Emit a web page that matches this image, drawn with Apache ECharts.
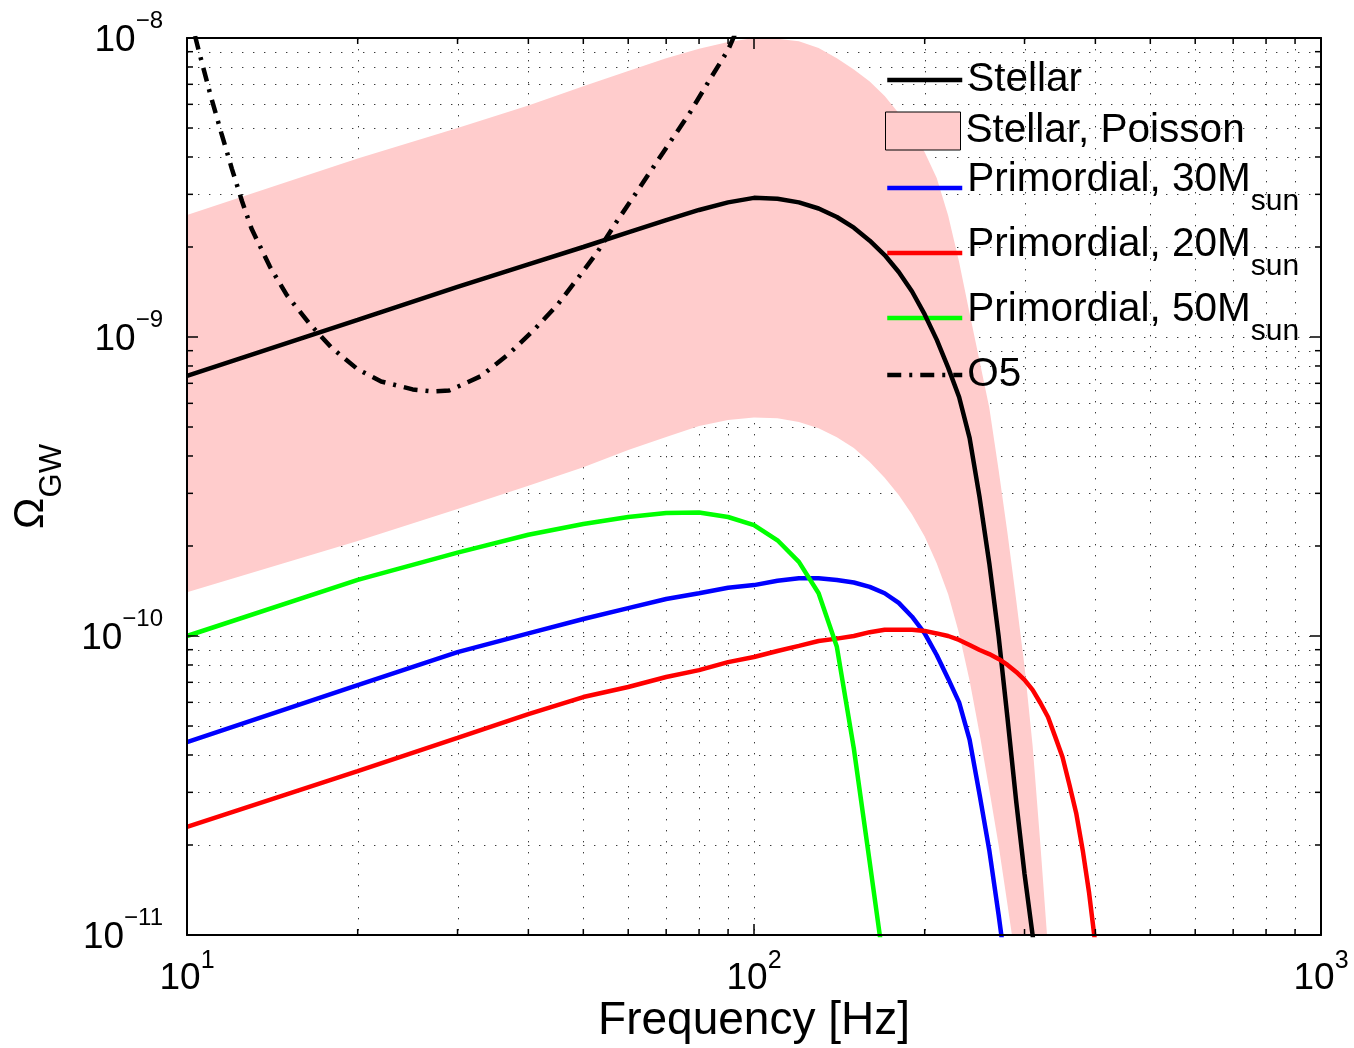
<!DOCTYPE html>
<html><head><meta charset="utf-8">
<script src="https://cdn.jsdelivr.net/npm/echarts@6/dist/echarts.min.js"></script>
<style>html,body{margin:0;padding:0;background:#fff}#c{width:1354px;height:1048px}</style>
</head><body><div id="c"></div>
<script>
// ---- data ----
const stellarF = [10,20,30,40,50,60,70,80,90,100,110,120,130,140,150,160,170,180,190,200,210,220,230,240,250,260,270,280,290,300,310,320];
const stellarV = [7.41e-10,1.14e-9,1.47e-9,1.75e-9,2.0e-9,2.24e-9,2.46e-9,2.66e-9,2.82e-9,2.92e-9,2.90e-9,2.82e-9,2.69e-9,2.52e-9,2.32e-9,2.10e-9,1.88e-9,1.65e-9,1.42e-9,1.19e-9,9.8e-10,7.9e-10,6.3e-10,4.6e-10,2.9e-10,1.75e-10,1.0e-10,5.3e-11,2.8e-11,1.6e-11,1.0e-11,6e-12];

const upperF = [10,20,30,40,50,60,70,80,90,100,110,120,130,140,150,160,170,180,190,200,210,220,230,240,250,260,270,280,290,300,310,320,330];
const upperV = [2.56e-9,3.95e-9,5.0e-9,5.95e-9,6.9e-9,7.75e-9,8.55e-9,9.2e-9,9.7e-9,1.0e-8,9.95e-9,9.75e-9,9.25e-9,8.55e-9,7.85e-9,7.15e-9,6.4e-9,5.6e-9,4.85e-9,4.15e-9,3.4e-9,2.55e-9,1.78e-9,1.2e-9,8.3e-10,5.8e-10,3.6e-10,2.2e-10,1.32e-10,7.9e-11,4.3e-11,2.0e-11,9e-12];

const lowerF = [10,20,30,40,50,60,70,80,90,100,110,120,130,140,150,160,170,180,190,200,210,220,230,240,250,260,270,280,290];
const lowerV = [1.40e-10,2.08e-10,2.66e-10,3.18e-10,3.67e-10,4.19e-10,4.63e-10,5.04e-10,5.28e-10,5.38e-10,5.35e-10,5.2e-10,4.95e-10,4.62e-10,4.25e-10,3.82e-10,3.38e-10,2.96e-10,2.55e-10,2.15e-10,1.75e-10,1.38e-10,1.02e-10,7.1e-11,4.7e-11,3.06e-11,2.0e-11,1.26e-11,8e-12];

const p30F = [10,20,30,40,50,60,70,80,90,100,110,120,130,140,150,160,170,180,190,200,210,220,230,240,250,260,270,280];
const p30V = [4.42e-11,6.85e-11,8.83e-11,1.02e-10,1.14e-10,1.24e-10,1.33e-10,1.39e-10,1.45e-10,1.48e-10,1.53e-10,1.56e-10,1.56e-10,1.54e-10,1.51e-10,1.46e-10,1.39e-10,1.29e-10,1.16e-10,1.02e-10,8.64e-11,7.2e-11,6.0e-11,4.5e-11,2.94e-11,1.92e-11,1.17e-11,7e-12];

const p20F = [10,20,30,40,50,60,70,80,90,100,110,120,130,140,150,160,170,180,190,200,210,220,230,240,250,260,270,280,290,300,310,320,330,340,350,360,370,380,390,400];
const p20V = [2.30e-11,3.53e-11,4.56e-11,5.48e-11,6.25e-11,6.75e-11,7.29e-11,7.69e-11,8.18e-11,8.51e-11,8.91e-11,9.27e-11,9.62e-11,9.8e-11,1.0e-10,1.03e-10,1.05e-10,1.05e-10,1.05e-10,1.04e-10,1.02e-10,1.0e-10,9.7e-11,9.33e-11,8.98e-11,8.7e-11,8.38e-11,8.0e-11,7.58e-11,7.13e-11,6.6e-11,5.97e-11,5.36e-11,4.59e-11,3.94e-11,3.18e-11,2.56e-11,1.92e-11,1.38e-11,9.3e-12];

const p50F = [10,20,30,40,50,60,70,80,90,100,110,120,130,140,150,160,170];
const p50V = [1.0e-10,1.54e-10,1.90e-10,2.18e-10,2.37e-10,2.50e-10,2.58e-10,2.59e-10,2.50e-10,2.35e-10,2.09e-10,1.77e-10,1.39e-10,9.2e-11,4.2e-11,1.75e-11,7.6e-12];

const o5F = [10,10.5,11,11.5,12,12.5,13,14,15,16.5,18,20,22,25,27,29,33,37,41,45,49,53,57,63,69,77,83.5,90,93];
const o5V = [1.3e-8,9.0e-9,6.45e-9,4.8e-9,3.65e-9,2.85e-9,2.3e-9,1.72e-9,1.38e-9,1.1e-9,9.2e-10,7.8e-10,7.1e-10,6.68e-10,6.58e-10,6.62e-10,7.4e-10,8.8e-10,1.06e-9,1.28e-9,1.58e-9,1.93e-9,2.4e-9,3.18e-9,4.12e-9,5.61e-9,7.24e-9,9.12e-9,1.05e-8];

const xTickValues = [10,100,1000];
const yTickValues = [1e-11,1e-10,1e-9,1e-8];
const minorX = [20,30,40,50,60,70,80,90,200,300,400,500,600,700,800,900];
const minorY = [2e-11,3e-11,4e-11,5e-11,6e-11,7e-11,8e-11,9e-11,2e-10,3e-10,4e-10,5e-10,6e-10,7e-10,8e-10,9e-10,2e-9,3e-9,4e-9,5e-9,6e-9,7e-9,8e-9,9e-9];
const majorGridX = [100];
const majorGridY = [1e-10,1e-9];

const seriesNames = ['Stellar','Stellar, Poisson','Primordial, 30Msun','Primordial, 20Msun','Primordial, 50Msun','O5'];

// ---- chart ----
const FONT = "'Liberation Sans', Arial, Helvetica, sans-serif";
const LW = 4.5;
const zip = (a,b) => a.map((v,i)=>[v,b[i]]);
const expOf = v => Math.round(Math.log10(v));
const fmtExp = v => { const e = expOf(v); return '{b|10}{e|' + (e<0 ? '\u2212' + (-e) : e) + '}'; };

const chart = echarts.init(document.getElementById('c'), null, {renderer:'canvas'});

function gridRender(params, api){
  const cs = params.coordSys;
  const ch = [];
  const dash = {stroke:'#3a3a3a', lineWidth:1, lineDash:[1.4,9.6]};
  minorX.concat(majorGridX).forEach(f=>{
    const x = Math.round(api.coord([f, 1e-11])[0]) + 0.5;
    ch.push({type:'line', shape:{x1:x,y1:cs.y,x2:x,y2:cs.y+cs.height}, style:dash});
  });
  minorY.concat(majorGridY).forEach(v=>{
    const y = Math.round(api.coord([10, v])[1]) + 0.5;
    ch.push({type:'line', shape:{x1:cs.x,y1:y,x2:cs.x+cs.width,y2:y}, style:dash});
  });
  return {type:'group', children:ch};
}
function tickRender(params, api){
  const cs = params.coordSys;
  const L = 6, ch = [];
  const st = {stroke:'#000', lineWidth:1.5};
  const b = cs.y + cs.height, r = cs.x + cs.width;
  minorX.forEach(f=>{
    const x = api.coord([f, 1e-11])[0];
    ch.push({type:'line', shape:{x1:x,y1:b,x2:x,y2:b-L}, style:st});
    ch.push({type:'line', shape:{x1:x,y1:cs.y,x2:x,y2:cs.y+L}, style:st});
  });
  minorY.forEach(v=>{
    const y = api.coord([10, v])[1];
    ch.push({type:'line', shape:{x1:cs.x,y1:y,x2:cs.x+L,y2:y}, style:st});
    ch.push({type:'line', shape:{x1:r,y1:y,x2:r-L,y2:y}, style:st});
  });
  return {type:'group', children:ch};
}
function bandRender(params, api){
  const pts = [];
  for (let i=0;i<upperF.length;i++) pts.push(api.coord([upperF[i], upperV[i]]));
  for (let i=lowerF.length-1;i>=0;i--) pts.push(api.coord([lowerF[i], lowerV[i]]));
  return {type:'polygon', shape:{points:pts}, style:{fill:'#ffcccc'}};
}

const labelRichX = {
  b:{fontSize:37, lineHeight:48, verticalAlign:'bottom', color:'#000', fontFamily:FONT},
  e:{fontSize:25, verticalAlign:'top', color:'#000', fontFamily:FONT}
};
const labelRichY = {
  b:{fontSize:37, lineHeight:50, verticalAlign:'bottom', color:'#000', fontFamily:FONT},
  e:{fontSize:24, verticalAlign:'top', color:'#000', fontFamily:FONT}
};
const axisLineStyle = {color:'#000', width:2};

const legendRich = {
  m:{fontSize:40.5, lineHeight:58, verticalAlign:'top', color:'#000', fontFamily:FONT},
  s:{fontSize:30, verticalAlign:'bottom', color:'#000', fontFamily:FONT}
};
const legendFmt = name => {
  const m = name.match(/^(.*\d+M)sun$/);
  return m ? '{m|' + m[1] + '}{s|sun}' : name;
};
const hiddenSymbol = {color:'rgba(0,0,0,0)', borderColor:'rgba(0,0,0,0)', borderWidth:0};
function mkLegend(top, data, extra){
  return Object.assign({
    orient:'vertical', left:885, top:top, padding:0, itemWidth:75, itemHeight:14,
    selectedMode:false, formatter:legendFmt, data:data, itemStyle:hiddenSymbol,
    lineStyle:{width:LW},
    textStyle:{fontSize:40.5, lineHeight:44, color:'#000', fontFamily:FONT, rich:legendRich}
  }, extra||{});
}

const option = {
  animation:false,
  backgroundColor:'#fff',
  textStyle:{fontFamily:FONT},
  grid:{left:187, top:38, width:1134, height:897, outerBoundsMode:'none', containLabel:false},
  legend:[
    mkLegend(58, [seriesNames[0]]),
    mkLegend(109, [{name:seriesNames[1], icon:'rect', itemStyle:{color:'#ffcccc', borderColor:'#000', borderWidth:1}}], {itemHeight:38, itemStyle:{}}),
    mkLegend(159, [seriesNames[2]]),
    mkLegend(224, [seriesNames[3]]),
    mkLegend(289, [seriesNames[4]]),
    mkLegend(353, [seriesNames[5]])
  ],
  xAxis:[
    {type:'log', logBase:10, min:10, max:1000, position:'bottom', z:10,
     name:'Frequency [Hz]', nameLocation:'middle', nameGap:63, nameMoveOverlap:false,
     nameTextStyle:{fontSize:46, lineHeight:46, color:'#000', fontFamily:FONT},
     axisLine:{show:true, onZero:false, lineStyle:axisLineStyle},
     axisTick:{show:true, inside:true, length:11, lineStyle:{color:'#000', width:1.5}},
     axisLabel:{show:true, margin:14, formatter:fmtExp, rich:labelRichX, color:'#000'},
     splitLine:{show:false}, minorTick:{show:false}},
    {type:'log', logBase:10, min:10, max:1000, position:'top', z:10,
     axisLine:{show:true, onZero:false, lineStyle:axisLineStyle},
     axisTick:{show:true, inside:true, length:11, lineStyle:{color:'#000', width:1.5}},
     axisLabel:{show:false}, splitLine:{show:false}}
  ],
  yAxis:[
    {type:'log', logBase:10, min:1e-11, max:1e-8, position:'left', z:10,
     name:'{o|\u03A9}{g|GW}', nameLocation:'middle', nameRotate:90, nameGap:119, nameMoveOverlap:false,
     nameTextStyle:{color:'#000', fontFamily:FONT, rich:{
       o:{fontSize:42, lineHeight:58, verticalAlign:'top', color:'#000', fontFamily:FONT},
       g:{fontSize:31, verticalAlign:'bottom', color:'#000', fontFamily:FONT}}},
     axisLine:{show:true, onZero:false, lineStyle:axisLineStyle},
     axisTick:{show:true, inside:true, length:11, lineStyle:{color:'#000', width:1.5}},
     axisLabel:{show:true, margin:24, formatter:fmtExp, rich:labelRichY, padding:[0,0,8,0], color:'#000'},
     splitLine:{show:false}, minorTick:{show:false}},
    {type:'log', logBase:10, min:1e-11, max:1e-8, position:'right', z:10,
     axisLine:{show:true, onZero:false, lineStyle:axisLineStyle},
     axisTick:{show:true, inside:true, length:11, lineStyle:{color:'#000', width:1.5}},
     axisLabel:{show:false}, splitLine:{show:false}}
  ],
  series:[
    {type:'custom', name:'_grid', renderItem:gridRender, data:[[100,1e-9]], z:1, silent:true, clip:true, tooltip:{show:false}},
    {type:'custom', name:seriesNames[1], renderItem:bandRender, data:[[100,1e-9]], z:2, silent:true, clip:true, itemStyle:{color:'#ffcccc'}},
    {type:'line', name:seriesNames[0], data:zip(stellarF, stellarV), symbol:'none', z:4, clip:true, lineStyle:{color:'#000', width:LW}, itemStyle:{color:'#000'}},
    {type:'line', name:seriesNames[2], data:zip(p30F, p30V), symbol:'none', z:4, clip:true, lineStyle:{color:'#0000ff', width:LW}, itemStyle:{color:'#0000ff'}},
    {type:'line', name:seriesNames[3], data:zip(p20F, p20V), symbol:'none', z:4, clip:true, lineStyle:{color:'#ff0000', width:LW}, itemStyle:{color:'#ff0000'}},
    {type:'line', name:seriesNames[4], data:zip(p50F, p50V), symbol:'none', z:4, clip:true, lineStyle:{color:'#00ff00', width:LW}, itemStyle:{color:'#00ff00'}},
    {type:'line', name:seriesNames[5], data:zip(o5F, o5V), symbol:'none', z:4, clip:true, lineStyle:{color:'#000', width:LW, type:[14,8,3,8]}, itemStyle:{color:'#000'}},
    {type:'custom', name:'_ticks', renderItem:tickRender, data:[[100,1e-9]], z:8, silent:true, clip:false}
  ]
};
chart.setOption(option);
</script>
</body></html>
